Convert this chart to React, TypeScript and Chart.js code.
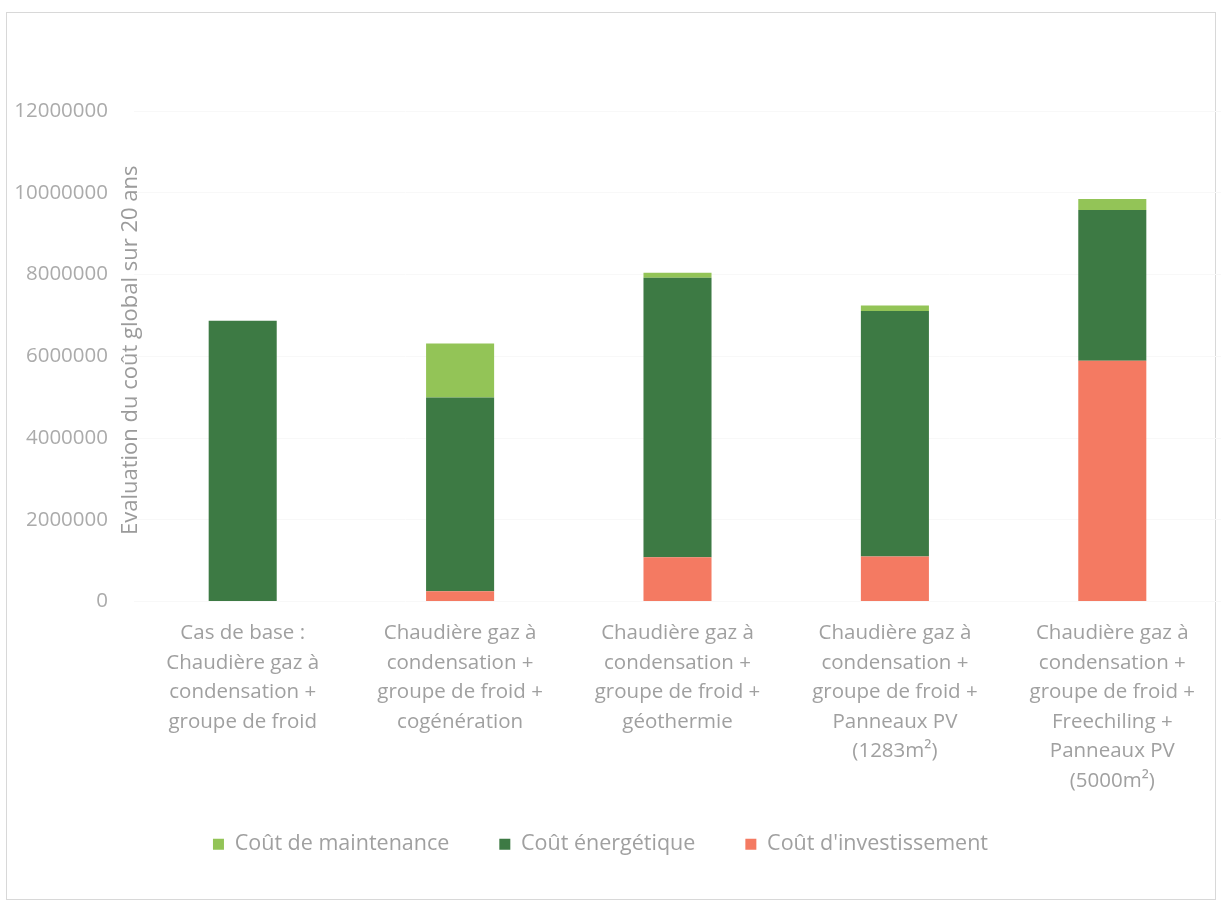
import React, { useEffect, useRef } from "react";
import { Chart, registerables } from "chart.js";

Chart.register(...registerables);

const categories: string[][] = [
  ["Cas de base :", "Chaudière gaz à", "condensation +", "groupe de froid"],
  ["Chaudière gaz à", "condensation +", "groupe de froid +", "cogénération"],
  ["Chaudière gaz à", "condensation +", "groupe de froid +", "géothermie"],
  ["Chaudière gaz à", "condensation +", "groupe de froid +", "Panneaux PV", "(1283m²)"],
  ["Chaudière gaz à", "condensation +", "groupe de froid +", "Freechiling +", "Panneaux PV", "(5000m²)"],
];

const investissement = [0, 250000, 1080000, 1100000, 5890000];
const energetique = [6870000, 4740000, 6840000, 6010000, 3690000];
const maintenance = [0, 1320000, 120000, 130000, 270000];

const seriesNames = ["Coût d'investissement", "Coût énergétique", "Coût de maintenance"];
const yTitle = "Evaluation du coût global sur 20 ans";

const FONT = "'Open Sans', 'DejaVu Sans', sans-serif";

const axisTitlePlugin = {
  id: "axisTitleInside",
  afterDraw(chart: any) {
    const { ctx, chartArea } = chart;
    ctx.save();
    ctx.translate(131, (chartArea.top + chartArea.bottom) / 2 - 6);
    ctx.rotate(-Math.PI / 2);
    ctx.textAlign = "center";
    ctx.textBaseline = "middle";
    ctx.fillStyle = "#9b9b9b";
    ctx.font = `22px ${FONT}`;
    ctx.fillText(yTitle, 0, 0);
    ctx.restore();
  },
};

const legendShiftPlugin = {
  id: "legendShift",
  afterLayout(chart: any) {
    const lg = chart.legend;
    if (!lg) return;
    const dy = -18;
    const dx = -10;
    lg.top += dy;
    lg.bottom += dy;
    lg.left += dx;
    lg.right += dx;
    if (lg.legendHitBoxes) {
      lg.legendHitBoxes.forEach((b: any) => {
        b.top += dy;
        b.left += dx;
      });
    }
  },
};

export default function App() {
  const ref = useRef<HTMLCanvasElement | null>(null);

  useEffect(() => {
    if (!ref.current) return;
    const chart = new Chart(ref.current, {
      type: "bar",
      data: {
        labels: categories,
        datasets: [
          {
            label: seriesNames[0],
            data: investissement,
            backgroundColor: "#f47a62",
          },
          {
            label: seriesNames[1],
            data: energetique,
            backgroundColor: "#3d7a44",
          },
          {
            label: seriesNames[2],
            data: maintenance,
            backgroundColor: "#93c457",
          },
        ],
      },
      options: {
        animation: false,
        responsive: false,
        maintainAspectRatio: false,
        layout: { padding: { left: 0, right: 0, top: 111, bottom: 21 } },
        datasets: {
          bar: { categoryPercentage: 1, barPercentage: 0.313 },
        },
        plugins: {
          legend: {
            position: "bottom",
            reverse: true,
            labels: {
              boxWidth: 11,
              boxHeight: 11,
              padding: 50,
              color: "#a0a0a0",
              font: { family: FONT, size: 21.5 },
            },
          },
          tooltip: { enabled: false },
          title: { display: false },
        },
        scales: {
          x: {
            stacked: true,
            border: { display: false },
            grid: { display: false, drawTicks: false },
            ticks: {
              autoSkip: false,
              maxRotation: 0,
              minRotation: 0,
              padding: 17,
              color: "#a0a0a0",
              font: { family: FONT, size: 20.5, lineHeight: 29.5 / 20.5 },
            },
            afterFit(scale: any) {
              scale.height = 200;
            },
          },
          y: {
            stacked: true,
            min: 0,
            max: 12000000,
            border: { display: false },
            grid: { color: "#f8f8f8", drawTicks: false },
            ticks: {
              stepSize: 2000000,
              padding: 26,
              color: "#ababab",
              font: { family: FONT, size: 20.5 },
              callback: (v: any) => String(v),
            },
            afterFit(scale: any) {
              scale.width = 134;
            },
          },
        },
      },
      plugins: [axisTitlePlugin, legendShiftPlugin],
    });
    return () => chart.destroy();
  }, []);

  return (
    <div style={{ position: "fixed", left: 0, top: 0, width: 1221, height: 904, background: "#fff" }}>
      <div
        style={{
          position: "absolute",
          left: 6,
          top: 12,
          width: 1208,
          height: 886,
          border: "1px solid #d8d8d8",
          pointerEvents: "none",
        }}
      />
      <canvas ref={ref} width={1221} height={904} style={{ position: "absolute", left: 0, top: 0 }} />
    </div>
  );
}
